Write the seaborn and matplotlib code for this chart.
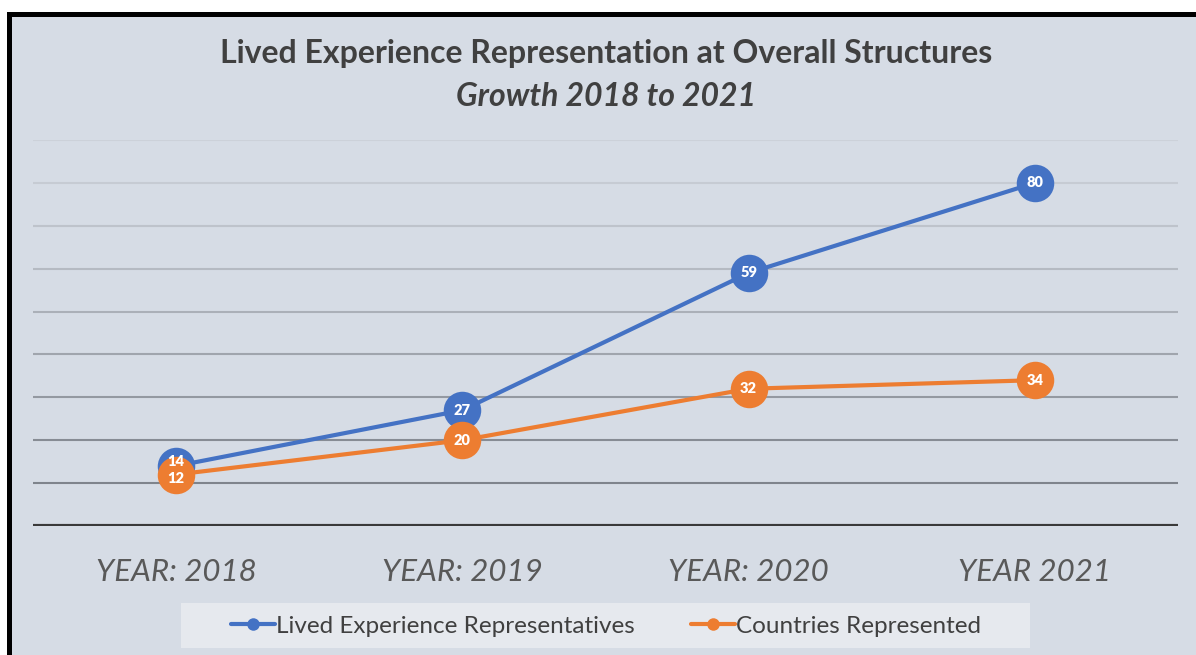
import matplotlib
matplotlib.use("Agg")
import matplotlib.pyplot as plt
from matplotlib.lines import Line2D
from matplotlib.patches import Rectangle
import pandas as pd
import seaborn as sns

# Data
years = ["YEAR: 2018", "YEAR: 2019", "YEAR: 2020", "YEAR 2021"]
representatives = [14, 27, 59, 80]
countries = [12, 20, 32, 34]
series_names = ["Lived Experience Representatives", "Countries Represented"]

colors = {"Lived Experience Representatives": "#4472c4",
          "Countries Represented": "#ed7d31"}

df = pd.DataFrame({
    "year": years * 2,
    "value": representatives + countries,
    "series": [series_names[0]] * len(years) + [series_names[1]] * len(years),
})

sns.set_theme(style="white")
plt.rcParams["font.family"] = ["Lato", "DejaVu Sans"]

W, H = 1196, 655
fig = plt.figure(figsize=(W / 100, H / 100), dpi=100)
fig.patch.set_facecolor("white")

# Black frame and panel background
fig.add_artist(Rectangle((7 / W, 0), 1 - 7 / W, 1 - 12 / H, transform=fig.transFigure,
                         facecolor="black", edgecolor="none", zorder=-3))
fig.add_artist(Rectangle((12 / W, 0), 1 - 12 / W, 1 - 17 / H, transform=fig.transFigure,
                         facecolor="#d6dce5", edgecolor="none", zorder=-2))

ax = fig.add_axes([33 / W, 1 - 526 / H, (1178 - 33) / W, (526 - 140) / H])
ax.set_facecolor("none")

# Horizontal gridlines, darker toward the baseline
grid_vals = list(range(10, 100, 10))
grid_cols = ["#7f848c", "#878c94", "#9499a1", "#a0a5ad", "#abb0b8",
             "#b5bac2", "#bec3cb", "#c6cbd3", "#ccd1d9"]
for gv, gc in zip(grid_vals, grid_cols):
    ax.axhline(gv, color=gc, linewidth=1.5, zorder=0)
ax.axhline(0, color="#3a3a3a", linewidth=3, zorder=1)

sns.lineplot(data=df, x="year", y="value", hue="series", palette=colors,
             hue_order=series_names, marker="o", markersize=27,
             markeredgewidth=0, linewidth=3, legend=False, ax=ax, zorder=3,
             sort=False)

# Value labels inside the markers; the two close first-year labels are nudged apart
for vals, nudge in [(representatives, 3), (countries, -3)]:
    for i, v in enumerate(vals):
        dy = nudge if i == 0 else 0
        ax.annotate(str(v), (i, v), xytext=(0, dy), textcoords="offset points",
                    ha="center", va="center", color="white",
                    fontsize=10.5, fontweight="heavy", zorder=5)

ax.set_xlim(-0.5, 3.5)
ax.set_ylim(0, 90)
ax.set_yticks([])
ax.set_xticks(range(len(years)))
ax.set_xticklabels(years, fontsize=22.5, fontstyle="italic", color="#595959")
ax.tick_params(axis="x", length=0, pad=23)
ax.set_xlabel("")
ax.set_ylabel("")
for s in ax.spines.values():
    s.set_visible(False)

# Titles
fig.text(606 / W, 1 - 53 / H, "Lived Experience Representation at Overall Structures",
         ha="center", va="center", fontsize=23, fontweight="bold", color="#404040")
fig.text(606 / W, 1 - 96 / H, "Growth 2018 to 2021", ha="center", va="center",
         fontsize=23, fontweight="bold", fontstyle="italic", color="#404040")

# Legend box and entries
fig.add_artist(Rectangle((181 / W, 1 - 648 / H), (1030 - 181) / W, 45 / H,
                         transform=fig.transFigure, facecolor="#e6e9ee",
                         edgecolor="none", zorder=-1))
handles = [Line2D([0], [0], color=colors[n], linewidth=3, marker="o",
                  markersize=9, markeredgewidth=0) for n in series_names]
fig.legend(handles, series_names, loc="center", ncol=2,
           bbox_to_anchor=(606 / W, 1 - 626 / H), frameon=False, fontsize=17.5,
           handlelength=1.8, handletextpad=0.05, columnspacing=2.3,
           labelcolor="#404040")

fig.savefig("out.png", dpi=100)
